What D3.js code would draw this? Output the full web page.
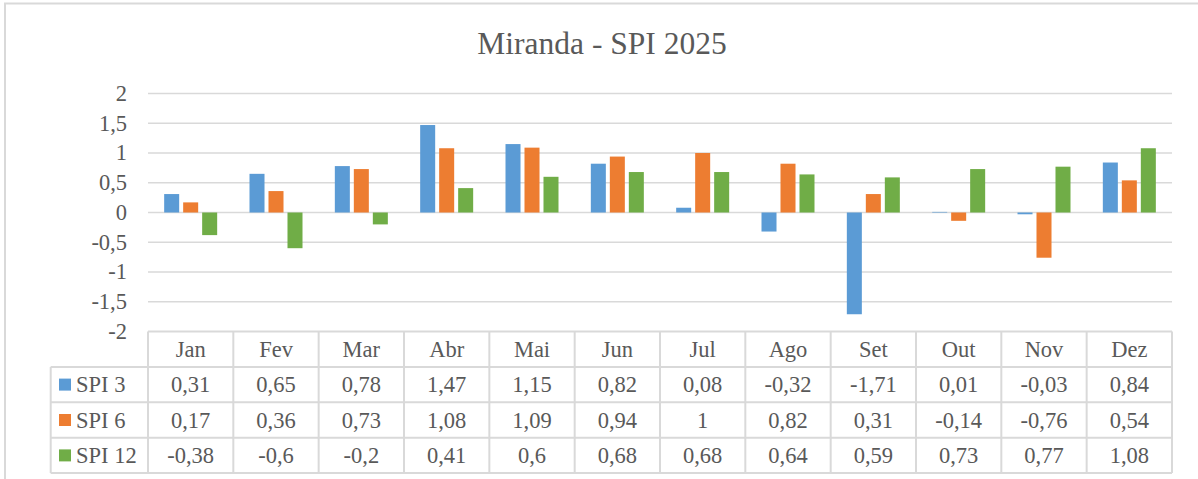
<!DOCTYPE html>
<html>
<head>
<meta charset="utf-8">
<script src="https://cdn.jsdelivr.net/npm/d3@7"></script>
<style>
  body { margin: 0; background: #fff; }
  svg { display: block; }
  svg text { font-family: "Liberation Serif", "DejaVu Serif", serif; }
</style>
</head>
<body>
<svg id="chart"></svg>
<script>
var months = ["Jan", "Fev", "Mar", "Abr", "Mai", "Jun", "Jul", "Ago", "Set", "Out", "Nov", "Dez"];
var seriesNames = ["SPI 3", "SPI 6", "SPI 12"];
var spi3 = [0.31, 0.65, 0.78, 1.47, 1.15, 0.82, 0.08, -0.32, -1.71, 0.01, -0.03, 0.84];
var spi6 = [0.17, 0.36, 0.73, 1.08, 1.09, 0.94, 1, 0.82, 0.31, -0.14, -0.76, 0.54];
var spi12 = [-0.38, -0.6, -0.2, 0.41, 0.6, 0.68, 0.68, 0.64, 0.59, 0.73, 0.77, 1.08];
var yTicks = [-2, -1.5, -1, -0.5, 0, 0.5, 1, 1.5, 2];
var colors = { "SPI 3": "#5B9BD5", "SPI 6": "#ED7D31", "SPI 12": "#70AD47" };

var seriesValues = { "SPI 3": spi3, "SPI 6": spi6, "SPI 12": spi12 };
var commaFormat = function (n) { return String(n).replace(".", ","); };

var width = 1198, height = 479;
var margin = { left: 148, right: 26, top: 93.5, plotBottom: 331.5 };
var rowH = 35.4;
var legendLeft = 50.7;
var fontSize = 22.5;
var textColor = "#595959";
var gridColor = "#D9D9D9";

var svg = d3.select("#chart")
  .attr("width", width)
  .attr("height", height)
  .attr("viewBox", [0, 0, width, height]);

// outer chart border (cropped on right and bottom)
svg.append("rect")
  .attr("x", 5)
  .attr("y", 3.5)
  .attr("width", width + 20)
  .attr("height", height + 20)
  .attr("fill", "none")
  .attr("stroke", gridColor)
  .attr("stroke-width", 2);

svg.append("text")
  .attr("x", 602)
  .attr("y", 54)
  .attr("text-anchor", "middle")
  .attr("font-size", 31.5)
  .attr("fill", textColor)
  .text("Miranda - SPI 2025");

var xScale = d3.scaleBand()
  .domain(months)
  .range([margin.left, width - margin.right]);

var groupWidth = 53;
var xInner = d3.scaleBand()
  .domain(seriesNames)
  .range([(xScale.bandwidth() - groupWidth) / 2, (xScale.bandwidth() + groupWidth) / 2])
  .paddingInner(0.21);

var yScale = d3.scaleLinear()
  .domain([-2, 2])
  .range([margin.plotBottom, margin.top]);

// gridlines
svg.append("g")
  .selectAll("line")
  .data(yTicks.filter(d => d !== -2))
  .join("line")
  .attr("x1", margin.left)
  .attr("x2", width - margin.right)
  .attr("y1", d => yScale(d))
  .attr("y2", d => yScale(d))
  .attr("stroke", gridColor)
  .attr("stroke-width", 1.5);

// y axis labels
var yAxis = d3.axisLeft(yScale)
  .tickValues(yTicks)
  .tickFormat(commaFormat)
  .tickSize(0)
  .tickPadding(0);

svg.append("g")
  .attr("transform", "translate(127, 0)")
  .call(yAxis)
  .attr("font-family", null)
  .attr("font-size", null)
  .call(g => g.select(".domain").remove())
  .call(g => g.selectAll("text")
    .attr("font-size", fontSize)
    .attr("fill", textColor)
    .attr("dy", "0.3em"));

// bars
var groups = svg.append("g")
  .selectAll("g")
  .data(seriesNames)
  .join("g")
  .attr("fill", d => colors[d]);

groups.selectAll("rect")
  .data(name => seriesValues[name].map((v, i) => ({ name: name, month: months[i], value: v })))
  .join("rect")
  .attr("x", d => xScale(d.month) + xInner(d.name))
  .attr("width", xInner.bandwidth())
  .attr("y", d => yScale(Math.max(0, d.value)))
  .attr("height", d => Math.abs(yScale(d.value) - yScale(0)));

// data table
var tableTop = margin.plotBottom;
var tableRight = width - margin.right;
var table = svg.append("g")
  .attr("stroke", gridColor)
  .attr("stroke-width", 2);

// horizontal lines
table.append("line")
  .attr("x1", margin.left).attr("x2", tableRight)
  .attr("y1", tableTop).attr("y2", tableTop);

d3.range(1, seriesNames.length + 2).forEach(i => {
  table.append("line")
    .attr("x1", legendLeft).attr("x2", tableRight)
    .attr("y1", tableTop + i * rowH).attr("y2", tableTop + i * rowH);
});

// vertical lines
table.append("line")
  .attr("x1", legendLeft).attr("x2", legendLeft)
  .attr("y1", tableTop + rowH).attr("y2", tableTop + (seriesNames.length + 1) * rowH);

table.selectAll("line.col")
  .data(months.map(m => xScale(m)).concat([tableRight]))
  .join("line")
  .attr("class", "col")
  .attr("x1", d => d).attr("x2", d => d)
  .attr("y1", tableTop).attr("y2", tableTop + (seriesNames.length + 1) * rowH);

// header
svg.append("g")
  .selectAll("text")
  .data(months)
  .join("text")
  .attr("x", d => xScale(d) + xScale.bandwidth() / 2)
  .attr("y", tableTop + rowH / 2)
  .attr("dy", "0.34em")
  .attr("text-anchor", "middle")
  .attr("font-size", fontSize)
  .attr("fill", textColor)
  .text(d => d);

// rows
var rows = svg.append("g")
  .selectAll("g")
  .data(seriesNames)
  .join("g")
  .attr("transform", (d, i) => `translate(0, ${tableTop + (i + 1) * rowH})`);

rows.append("rect")
  .attr("x", 59)
  .attr("y", rowH / 2 - 6)
  .attr("width", 12)
  .attr("height", 12)
  .attr("fill", d => colors[d]);

rows.append("text")
  .attr("x", 76)
  .attr("y", rowH / 2)
  .attr("dy", "0.34em")
  .attr("font-size", fontSize)
  .attr("fill", textColor)
  .text(d => d);

rows.selectAll("text.val")
  .data(name => seriesValues[name].map((v, i) => ({ month: months[i], value: v })))
  .join("text")
  .attr("class", "val")
  .attr("x", d => xScale(d.month) + xScale.bandwidth() / 2)
  .attr("y", rowH / 2)
  .attr("dy", "0.34em")
  .attr("text-anchor", "middle")
  .attr("font-size", fontSize)
  .attr("fill", textColor)
  .text(d => commaFormat(d.value));
</script>
</body>
</html>
